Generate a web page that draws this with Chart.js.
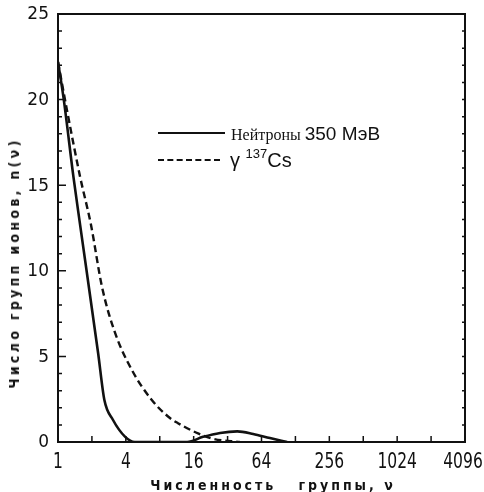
<!DOCTYPE html>
<html>
<head>
<meta charset="utf-8">
<script src="https://cdn.jsdelivr.net/npm/chart.js@4.4.1/dist/chart.umd.min.js"></script>
<style>
  html, body { margin: 0; padding: 0; background: #fff; }
  #wrap { position: relative; width: 484px; height: 492px; }
  #c { position: absolute; left: 0; top: 0; }
  .lbl { position: absolute; color: #111; white-space: nowrap; }
  .ytitle { left: 14px; top: 263px; transform: translate(-50%, -50%) rotate(-90deg);
    font: bold 14px 'DejaVu Sans Condensed', 'DejaVu Sans', sans-serif; letter-spacing: 3.3px; }
  .xtitle { left: 273px; top: 485px; transform: translate(-50%, -50%);
    font: bold 14px 'DejaVu Sans Condensed', 'DejaVu Sans', sans-serif; letter-spacing: 3px; }
  .leg1 { left: 231px; top: 123px; font: 16px 'Liberation Serif', serif; }
  .leg1 b { font: 19px 'Liberation Sans', sans-serif; font-weight: normal; }
  .leg2 { left: 230px; top: 146px; font: 20px 'Liberation Sans', sans-serif; }
  .leg2 sup { font-size: 13px; vertical-align: 9px; }
  .sw { position: absolute; left: 158px; width: 67px; height: 0; }
</style>
</head>
<body>
<div id="wrap">
  <canvas id="c" width="484" height="492"></canvas>
  <div class="lbl ytitle">Число групп ионов, n(ν)</div>
  <div class="lbl xtitle">Численность&nbsp;&nbsp;&nbsp;группы, ν</div>
  <div class="sw" style="top:132px;border-top:2.5px solid #111"></div>
  <div class="lbl leg1">Нейтроны <b>350 МэВ</b></div>
  <div class="sw" style="top:159px;width:62px;border-top:2.5px dashed #111"></div>
  <div class="lbl leg2">γ <sup>137</sup>Cs</div>
</div>
<script>
// group size (nu) and number of groups n(nu)
const neutronV = [1, 1.12, 1.37, 1.57, 2.27, 2.58, 3.07, 3.95, 4.8, 14, 19.4, 27.5, 39, 54, 76, 108];
const neutronN = [22.2, 20.1, 15.5, 12.7, 5.2, 2.45, 1.3, 0.3, 0, 0, 0.3, 0.53, 0.62, 0.47, 0.23, 0];
const gammaV = [1, 1.2, 1.57, 1.96, 2.46, 3.2, 4.53, 6.8, 9.85, 11.6, 17.5, 24, 41];
const gammaN = [22.2, 19.4, 15.5, 12.7, 9.05, 6.4, 4.2, 2.45, 1.4, 1.1, 0.5, 0.18, 0];
const xTicks = [1, 2, 4, 8, 16, 32, 64, 128, 256, 512, 1024, 2048, 4096];
const xLabels = [1, 4, 16, 64, 256, 1024, 4096];
const yLabels = [0, 5, 10, 15, 20, 25];

const INK = '#111';
const pts = (xs, ys) => xs.map((x, i) => ({ x, y: ys[i] }));

// frame, inward tick marks and tick labels
const frame = {
  id: 'frame',
  afterDraw(chart) {
    const { ctx, chartArea: a, scales: { x, y } } = chart;
    ctx.save();
    ctx.strokeStyle = INK;
    ctx.fillStyle = INK;
    ctx.lineWidth = 2;
    ctx.strokeRect(a.left, a.top, a.right - a.left, a.bottom - a.top);
    ctx.lineWidth = 1.5;
    ctx.beginPath();
    x.ticks.forEach(t => {
      const px = x.getPixelForValue(t.value);
      ctx.moveTo(px, a.bottom); ctx.lineTo(px, a.bottom - 6);
    });
    y.ticks.forEach(t => {
      const py = y.getPixelForValue(t.value);
      const len = yLabels.includes(t.value) ? 8 : 4;
      ctx.moveTo(a.left, py); ctx.lineTo(a.left + len, py);
      ctx.moveTo(a.right, py); ctx.lineTo(a.right - 3, py);
    });
    ctx.stroke();

    // x labels, narrowed like the original typewriter digits
    ctx.font = "21px 'DejaVu Sans', sans-serif";
    ctx.textAlign = 'center';
    ctx.textBaseline = 'alphabetic';
    xLabels.forEach(v => {
      const px = Math.min(x.getPixelForValue(v), 463);
      ctx.save();
      ctx.translate(px, a.bottom + 26);
      ctx.scale(0.74, 1);
      ctx.fillText(String(v), 0, 0);
      ctx.restore();
    });
    ctx.font = "17px 'DejaVu Sans', sans-serif";
    ctx.textAlign = 'right';
    ctx.textBaseline = 'middle';
    yLabels.forEach(v => {
      ctx.fillText(String(v), a.left - 9, y.getPixelForValue(v) + 1);
    });
    ctx.restore();
  }
};

new Chart(document.getElementById('c'), {
  type: 'line',
  data: {
    datasets: [
      {
        label: 'Нейтроны 350 МэВ',
        data: pts(neutronV, neutronN),
        borderColor: INK, borderWidth: 2.6,
        pointRadius: 0, cubicInterpolationMode: 'monotone', fill: false
      },
      {
        label: 'γ 137Cs',
        data: pts(gammaV, gammaN),
        borderColor: INK, borderWidth: 2.4, borderDash: [7, 4],
        pointRadius: 0, cubicInterpolationMode: 'monotone', fill: false
      }
    ]
  },
  options: {
    responsive: false, animation: false,
    layout: { padding: { top: 14, right: 19, left: 0, bottom: 0 } },
    plugins: { legend: { display: false }, tooltip: { enabled: false } },
    scales: {
      x: {
        type: 'logarithmic', min: 1, max: 4096,
        afterBuildTicks: s => { s.ticks = xTicks.map(v => ({ value: v })); },
        afterFit: s => { s.height = 50; },
        grid: { display: false, drawTicks: false },
        border: { display: false },
        ticks: { display: false }
      },
      y: {
        min: 0, max: 25,
        afterBuildTicks: s => {
          const t = [];
          for (let v = 0; v <= 25; v++) t.push({ value: v });
          s.ticks = t;
        },
        afterFit: s => { s.width = 58; },
        grid: { display: false, drawTicks: false },
        border: { display: false },
        ticks: { display: false }
      }
    }
  },
  plugins: [frame]
});
</script>
</body>
</html>
